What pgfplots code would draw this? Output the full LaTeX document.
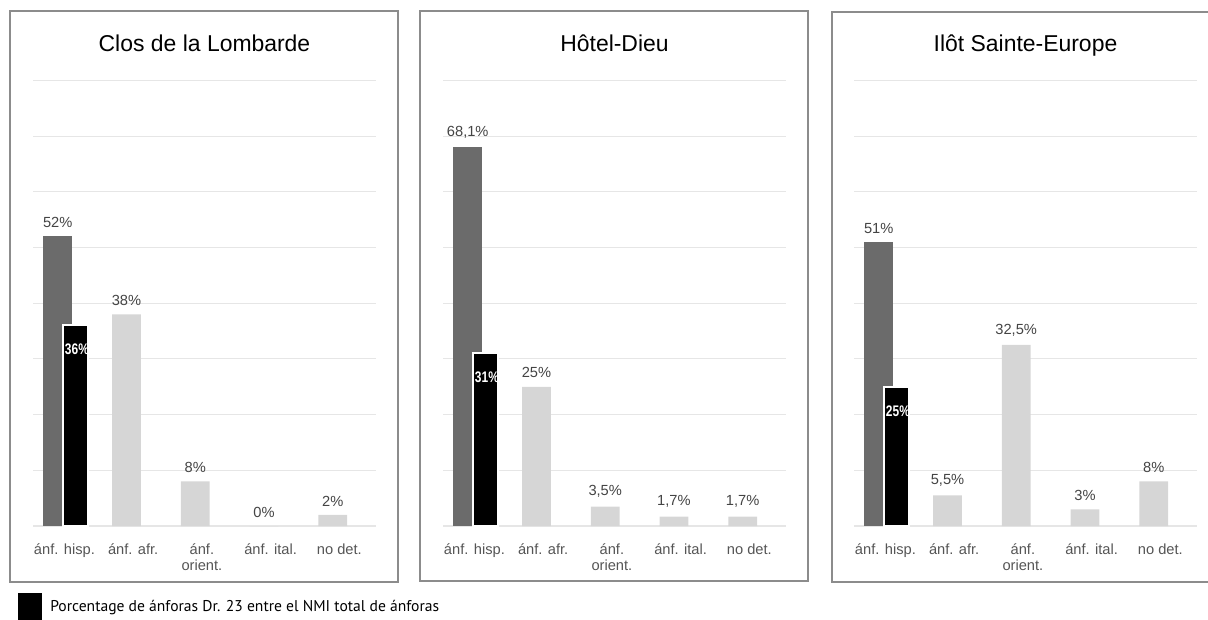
\documentclass[border=0pt]{standalone}
\usepackage{pgfplots}
\pgfplotsset{compat=1.18}
\usepackage{fontspec}
\setmainfont{Liberation Sans}
\newfontfamily\legfont{PT Sans}
\newfontfamily\condfont[FakeStretch=0.78]{Liberation Sans}

\definecolor{hispgray}{HTML}{6B6B6B}
\definecolor{lightbar}{HTML}{D6D6D6}
\definecolor{gridgray}{HTML}{E6E6E6}
\definecolor{labelgray}{HTML}{444444}
\definecolor{tickgray}{HTML}{555555}
\definecolor{boxgray}{HTML}{8C8C8C}

% 1 px of the reference = 0.75pt
\pgfplotsset{
  panel/.style={
    anchor=south west,
    scale only axis,
    width=257.25pt, height=334.2pt,
    xmin=-0.36, xmax=4.63,
    ymin=0, ymax=80,
    ytick={0,10,...,80}, yticklabels={},
    ymajorgrids, grid style={gridgray, line width=0.8pt},
    axis line style={draw=none},
    major tick length=0pt,
    xtick={0,1,2,3,4},
    xticklabels={ánf. hisp., ánf. afr., ánf.\\orient., ánf. ital., no det.},
    xticklabel style={font=\fontsize{11}{12}\selectfont, text=tickgray,
                      align=center, anchor=north, yshift=-9.5pt, xshift=5pt},
    title style={font=\fontsize{17.2}{19}\selectfont, at={(0.5,1)},
                 anchor=base, yshift=16pt},
    clip=false,
    ybar, bar shift=0pt,
    point meta=explicit symbolic,
    nodes near coords,
    nodes near coords style={font=\fontsize{11}{12}\selectfont,
                             text=labelgray, anchor=south, yshift=3pt},
  },
  hisp/.style={fill=hispgray, draw=none, bar width=0.42, bar shift=0pt},
  other/.style={fill=lightbar, draw=none, bar width=0.42, bar shift=0pt},
  drtw/.style={fill=black, draw=white, line width=1.5pt, bar width=0.37,
               bar shift=0pt,
               nodes near coords style={text=white,
                 font=\condfont\bfseries\fontsize{11.5}{12}\selectfont,
                 anchor=center, yshift=-21pt, xshift=1pt}},
}

\begin{document}
\begin{tikzpicture}
\path[use as bounding box] (0pt,0pt) rectangle (906pt,464.25pt);

% panel frames
\draw[boxgray, line width=1.1pt] (7.5pt,27.75pt) rectangle (298.5pt,456pt);
\draw[boxgray, line width=1.1pt] (315pt,28.5pt) rectangle (606pt,456pt);
\draw[boxgray, line width=1.1pt] (910pt,455.25pt) -- (624pt,455.25pt)
  -- (624pt,27.75pt) -- (910pt,27.75pt);

% Clos de la Lombarde
\begin{axis}[panel, at={(24.75pt,69.75pt)}, title={Clos de la Lombarde},
  legend style={at={(-0.0437,-0.1807)}, anchor=west, draw=none, fill=none,
    inner sep=0pt, font=\legfont\fontsize{11.7}{13}\selectfont,
    legend cell align=left,
    nodes={inner xsep=6pt}},
  legend image code/.code={\fill[black] (0pt,-9.4pt) rectangle (16.5pt,9.4pt);},
]
\addplot[hisp, forget plot] coordinates {(0,52) [52\%]};
\addplot[other, forget plot] coordinates {
  (1,38) [38\%]
  (2,8)  [8\%]
  (3,0)  [0\%]
  (4,2)  [2\%]
};
\addplot[drtw] coordinates {(0.26,36) [36\%]};
\addlegendentry{Porcentage de ánforas Dr. 23 entre el NMI total de ánforas}
\end{axis}

% Hotel-Dieu
\begin{axis}[panel, at={(332.25pt,69.75pt)}, title={Hôtel-Dieu}]
\addplot[hisp] coordinates {(0,68.1) [68,1\%]};
\addplot[other] coordinates {
  (1,25)  [25\%]
  (2,3.5) [3,5\%]
  (3,1.7) [1,7\%]
  (4,1.7) [1,7\%]
};
\addplot[drtw] coordinates {(0.26,31) [31\%]};
\end{axis}

% Ilot Sainte-Europe
\begin{axis}[panel, at={(640.5pt,69.75pt)}, title={Ilôt Sainte-Europe}]
\addplot[hisp] coordinates {(0,51) [51\%]};
\addplot[other] coordinates {
  (1,5.5)  [5,5\%]
  (2,32.5) [32,5\%]
  (3,3)    [3\%]
  (4,8)    [8\%]
};
\addplot[drtw] coordinates {(0.26,25) [25\%]};
\end{axis}
\end{tikzpicture}
\end{document}
